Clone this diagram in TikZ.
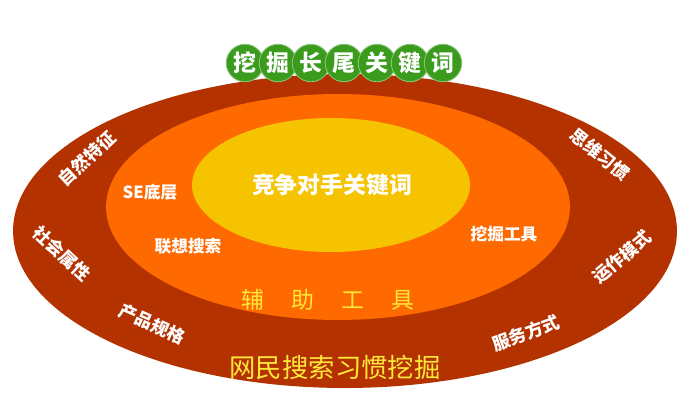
\documentclass[tikz,border=0pt]{standalone}
\usepackage{fontspec}
\setmainfont{Noto Sans CJK SC}
\usetikzlibrary{shapes.geometric}
\definecolor{ringred}{HTML}{B33200}
\definecolor{ringorange}{HTML}{FF6A00}
\definecolor{coreyellow}{HTML}{F5C300}
\definecolor{leafgreen}{HTML}{3A9B1C}
\definecolor{tagyellow}{HTML}{FFE83A}
\tikzset{
  ring/.style={ellipse, inner sep=0pt, draw=none},
  ringlabel/.style={text=white, font=\bfseries\fontsize{10}{10}\selectfont},
  innerlabel/.style={text=white, font=\bfseries\fontsize{9.5}{10}\selectfont},
  leaf/.style={circle, fill=leafgreen, draw=leafgreen!60!white, line width=0.5pt,
    minimum size=0.75cm, inner sep=0pt, text=white,
    font=\bfseries\fontsize{13}{13}\selectfont}
}
\begin{document}
\begin{tikzpicture}[x=0.02cm, y=-0.02cm]
      \useasboundingbox (0,0) rectangle (685,410);
      % rings
      \path
        (345,231) node[ring, fill=ringred, minimum width=13.28cm, minimum height=6.28cm] (outer){}
        (338,207) node[ring, fill=ringorange, minimum width=9.28cm, minimum height=4.52cm] (middle){}
        (331,185) node[ring, fill=coreyellow, minimum width=5.56cm, minimum height=2.68cm] (core){};
      % title
      \foreach \ch [count=\i from 0] in {挖,掘,长,尾,关,键,词}
        \node[leaf] (leaf\i) at (245+33*\i,63) {\ch};
      % core and middle ring
      \path
        (332,185) node[text=white, font=\bfseries\fontsize{13}{13}\selectfont] (rival){竞争对手关键词}
        (150,192) node[innerlabel] (se){SE底层}
        (188,246) node[innerlabel] (assoc){联想搜索}
        (504,234) node[innerlabel] (tools){挖掘工具}
        (328,300) node[text=tagyellow, font=\fontsize{13}{13}\selectfont] (aid){辅\hspace{1.2em}助\hspace{1.2em}工\hspace{1.2em}具};
      % outer ring
      \path
        (87,159) node[ringlabel, rotate=43] (nature){自然特征}
        (62,254) node[ringlabel, rotate=-43] (social){社会属性}
        (152,324) node[ringlabel, rotate=-24] (product){产品规格}
        (600,154) node[ringlabel, rotate=-39] (mind){思维习惯}
        (622,257) node[ringlabel, rotate=40] (operate){运作模式}
        (526,333) node[ringlabel, rotate=20] (service){服务方式}
        (335,367) node[text=tagyellow, font=\fontsize{15}{15}\selectfont] (habit){网民搜索习惯挖掘};
    \end{tikzpicture}
\end{document}
